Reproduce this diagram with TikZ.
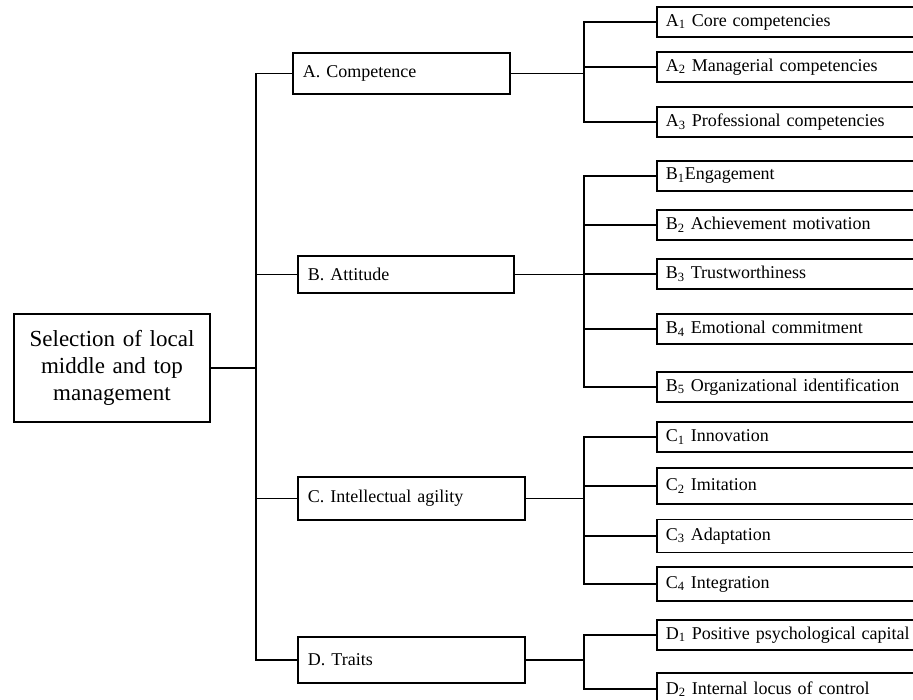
\documentclass[tikz,border=0pt]{standalone}
\usepackage{fontspec}
\setmainfont{Liberation Serif}
\usepackage{tikz}

\begin{document}
\begin{tikzpicture}[x=1pt,y=-1pt,line width=1.9pt,
	every node/.style={font=\fontsize{18}{21}\selectfont},
	top/.style={draw,text width=190pt,align=center,minimum height=108pt,font=\fontsize{23}{27}\selectfont},
	cat/.style={draw,anchor=west,inner xsep=10pt,align=left},
	sub/.style={draw,anchor=west,inner xsep=9pt,text width=300pt,align=left,minimum height=30pt}]
	\useasboundingbox (0,0) rectangle (913,699);
	\clip (0,0) rectangle (913,699);
	\draw (112,368) node (root) [top] {Selection of local middle and top management};
	\draw (292,73.5) node (catA) [cat,text width=197pt,minimum height=41pt] {A. Competence};
	\draw (297,274.5) node (catB) [cat,text width=196pt,minimum height=37pt] {B. Attitude};
	\draw (297,498.5) node (catC) [cat,text width=207pt,minimum height=43pt] {C. Intellectual agility};
	\draw (297,660) node (catD) [cat,text width=207pt,minimum height=46pt] {D. Traits};
	\draw (656,22) node (a1) [sub] {A\textsubscript{1} Core competencies};
	\draw (656,67) node (a2) [sub] {A\textsubscript{2} Managerial competencies};
	\draw (656,122) node (a3) [sub] {A\textsubscript{3} Professional competencies};
	\draw (656,176) node (b1) [sub] {B\textsubscript{1}Engagement};
	\draw (656,225) node (b2) [sub] {B\textsubscript{2} Achievement motivation};
	\draw (656,274) node (b3) [sub] {B\textsubscript{3} Trustworthiness};
	\draw (656,329) node (b4) [sub] {B\textsubscript{4} Emotional commitment};
	\draw (656,387) node (b5) [sub] {B\textsubscript{5} Organizational identification};
	\draw (656,437) node (c1) [sub] {C\textsubscript{1} Innovation};
	\draw (656,486) node (c2) [sub,minimum height=36pt] {C\textsubscript{2} Imitation};
	\draw (656,536) node (c3) [sub,minimum height=33pt] {C\textsubscript{3} Adaptation};
	\draw (656,584) node (c4) [sub,minimum height=34pt] {C\textsubscript{4} Integration};
	\draw (656,635) node (d1) [sub] {D\textsubscript{1} Positive psychological capital};
	\draw (656,689) node (d2) [sub,minimum height=32pt] {D\textsubscript{2} Internal locus of control};
	\coordinate (hub) at (256,368);
	\coordinate (jA) at (584,73.5);
	\coordinate (jB) at (584,274.5);
	\coordinate (jC) at (584,498.5);
	\coordinate (jD) at (584,660);
	\draw (root) -- (hub);
	\foreach \c in {catA,catB,catC,catD}
		\draw (hub) |- (\c.west);
	\draw (catA) -- (jA);
	\draw (catB) -- (jB);
	\draw (catC) -- (jC);
	\draw (catD) -- (jD);
	\foreach \s in {a1,a2,a3}
		\draw (jA) |- (\s.west);
	\foreach \s in {b1,b2,b3,b4,b5}
		\draw (jB) |- (\s.west);
	\foreach \s in {c1,c2,c3,c4}
		\draw (jC) |- (\s.west);
	\foreach \s in {d1,d2}
		\draw (jD) |- (\s.west);
\end{tikzpicture}
\end{document}
